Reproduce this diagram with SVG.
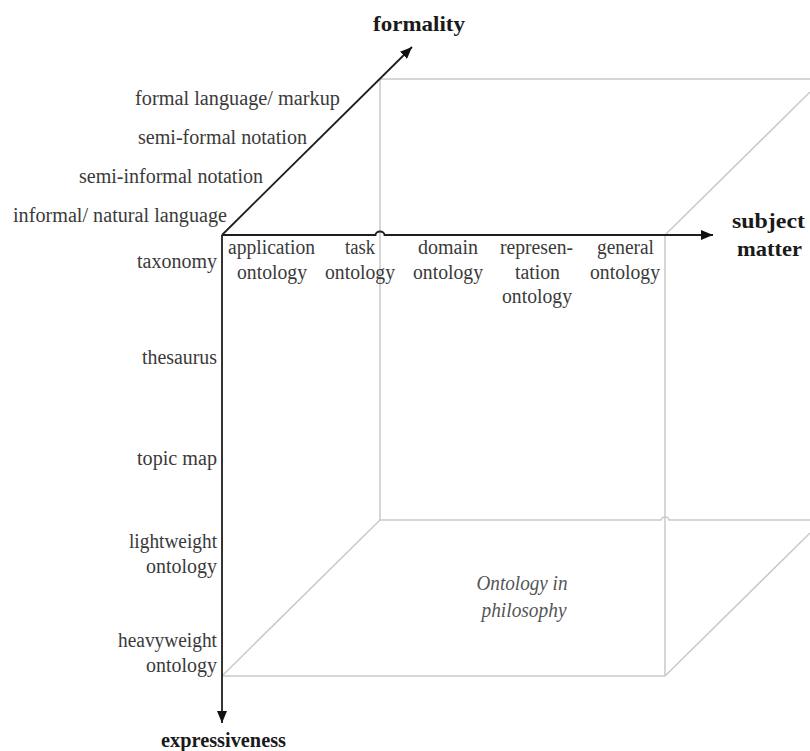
<svg xmlns="http://www.w3.org/2000/svg" width="810" height="751" viewBox="0 0 810 751" font-family="Liberation Serif, serif">
  <defs>
    <marker id="head" viewBox="0 0 12 10" refX="12" refY="5" markerWidth="12" markerHeight="10" markerUnits="userSpaceOnUse" orient="auto">
      <path d="M0,0 L12,5 L0,10 Z" fill="#111"/>
    </marker>
    <style>
      .axis { fill: none; stroke: #1e1e1e; stroke-width: 1.8; }
      .edge { fill: none; stroke: #c9c9c9; stroke-width: 1.5; }
      .lbl { font-size: 20px; fill: #3a3a3a; }
      .title { font-size: 22px; font-weight: bold; fill: #1a1a1a; }
      .ital { font-size: 20px; font-style: italic; fill: #555; text-anchor: middle; }
    </style>
  </defs>

  <rect width="810" height="751" fill="#fff"/>

  <!-- cube edges (light grey) -->
  <g id="cube">
    <!-- back face -->
    <path class="edge" d="M380,79 H810"/>
    <path class="edge" d="M380,79 V520"/>
    <path class="edge" d="M380,520 H661 A4,3 0 0 1 669,520 H810"/>
    <!-- front face -->
    <path class="edge" d="M665,235 V676"/>
    <path class="edge" d="M222,676 H665"/>
    <!-- depth edges -->
    <path class="edge" d="M665,235 L810,92"/>
    <path class="edge" d="M222,676 L380,520"/>
    <path class="edge" d="M665,676 L810,533"/>
  </g>

  <!-- axes -->
  <g id="connectors">
    <path id="axis-formality" class="axis" d="M222,235 L412,47" marker-end="url(#head)"/>
    <path id="axis-subject" class="axis" d="M222,235 H375.5 A4.5,3.5 0 0 1 384.5,235 H713" marker-end="url(#head)"/>
    <path id="axis-expressiveness" class="axis" d="M222,235 V723" marker-end="url(#head)"/>
  </g>

  <!-- axis titles -->
  <g id="title-formality" font-family="Liberation Serif"><text class="title" x="373" y="31" textLength="92" lengthAdjust="spacingAndGlyphs">formality</text></g>
  <g id="title-subject" font-family="Liberation Serif">
    <text class="title" x="732" y="228" textLength="73" lengthAdjust="spacingAndGlyphs">subject</text>
    <text class="title" x="737" y="256" textLength="65" lengthAdjust="spacingAndGlyphs">matter</text>
  </g>
  <g id="title-expressiveness" font-family="Liberation Serif"><text class="title" x="161" y="747" textLength="125" lengthAdjust="spacingAndGlyphs">expressiveness</text></g>

  <!-- formality scale -->
  <g id="formality-levels" font-family="Liberation Serif">
    <text class="lbl" x="135" y="105" textLength="205" lengthAdjust="spacingAndGlyphs">formal language/ markup</text>
    <text class="lbl" x="138" y="144" textLength="169" lengthAdjust="spacingAndGlyphs">semi-formal notation</text>
    <text class="lbl" x="79" y="183" textLength="184" lengthAdjust="spacingAndGlyphs">semi-informal notation</text>
    <text class="lbl" x="13" y="222" textLength="214" lengthAdjust="spacingAndGlyphs">informal/ natural language</text>
  </g>

  <!-- expressiveness scale -->
  <g id="expressiveness-levels" font-family="Liberation Serif">
    <text class="lbl" x="137" y="268" textLength="80" lengthAdjust="spacingAndGlyphs">taxonomy</text>
    <text class="lbl" x="142" y="364" textLength="75" lengthAdjust="spacingAndGlyphs">thesaurus</text>
    <text class="lbl" x="137" y="465" textLength="80" lengthAdjust="spacingAndGlyphs">topic map</text>
    <text class="lbl" x="129" y="548" textLength="88" lengthAdjust="spacingAndGlyphs">lightweight</text>
    <text class="lbl" x="146" y="573" textLength="71" lengthAdjust="spacingAndGlyphs">ontology</text>
    <text class="lbl" x="118" y="647" textLength="99" lengthAdjust="spacingAndGlyphs">heavyweight</text>
    <text class="lbl" x="146" y="672" textLength="71" lengthAdjust="spacingAndGlyphs">ontology</text>
  </g>

  <!-- subject matter scale -->
  <g id="subject-levels" font-family="Liberation Serif">
    <g id="application-ontology">
      <text class="lbl" x="228" y="254" textLength="87" lengthAdjust="spacingAndGlyphs">application</text>
      <text class="lbl" x="237" y="279" textLength="70" lengthAdjust="spacingAndGlyphs">ontology</text>
    </g>
    <g id="task-ontology">
      <text class="lbl" x="345" y="254" textLength="30" lengthAdjust="spacingAndGlyphs">task</text>
      <text class="lbl" x="325" y="279" textLength="70" lengthAdjust="spacingAndGlyphs">ontology</text>
    </g>
    <g id="domain-ontology">
      <text class="lbl" x="418" y="254" textLength="60" lengthAdjust="spacingAndGlyphs">domain</text>
      <text class="lbl" x="413" y="279" textLength="70" lengthAdjust="spacingAndGlyphs">ontology</text>
    </g>
    <g id="representation-ontology">
      <text class="lbl" x="500" y="254" textLength="73" lengthAdjust="spacingAndGlyphs">represen-</text>
      <text class="lbl" x="515" y="279" textLength="45" lengthAdjust="spacingAndGlyphs">tation</text>
      <text class="lbl" x="502" y="303" textLength="70" lengthAdjust="spacingAndGlyphs">ontology</text>
    </g>
    <g id="general-ontology">
      <text class="lbl" x="597" y="254" textLength="57" lengthAdjust="spacingAndGlyphs">general</text>
      <text class="lbl" x="590" y="279" textLength="70" lengthAdjust="spacingAndGlyphs">ontology</text>
    </g>
  </g>

  <!-- floor label -->
  <g id="ontology-in-philosophy" font-family="Liberation Serif">
    <text class="ital" x="522" y="590" textLength="91" lengthAdjust="spacingAndGlyphs">Ontology in</text>
    <text class="ital" x="524" y="617" textLength="85" lengthAdjust="spacingAndGlyphs">philosophy</text>
  </g>
</svg>
